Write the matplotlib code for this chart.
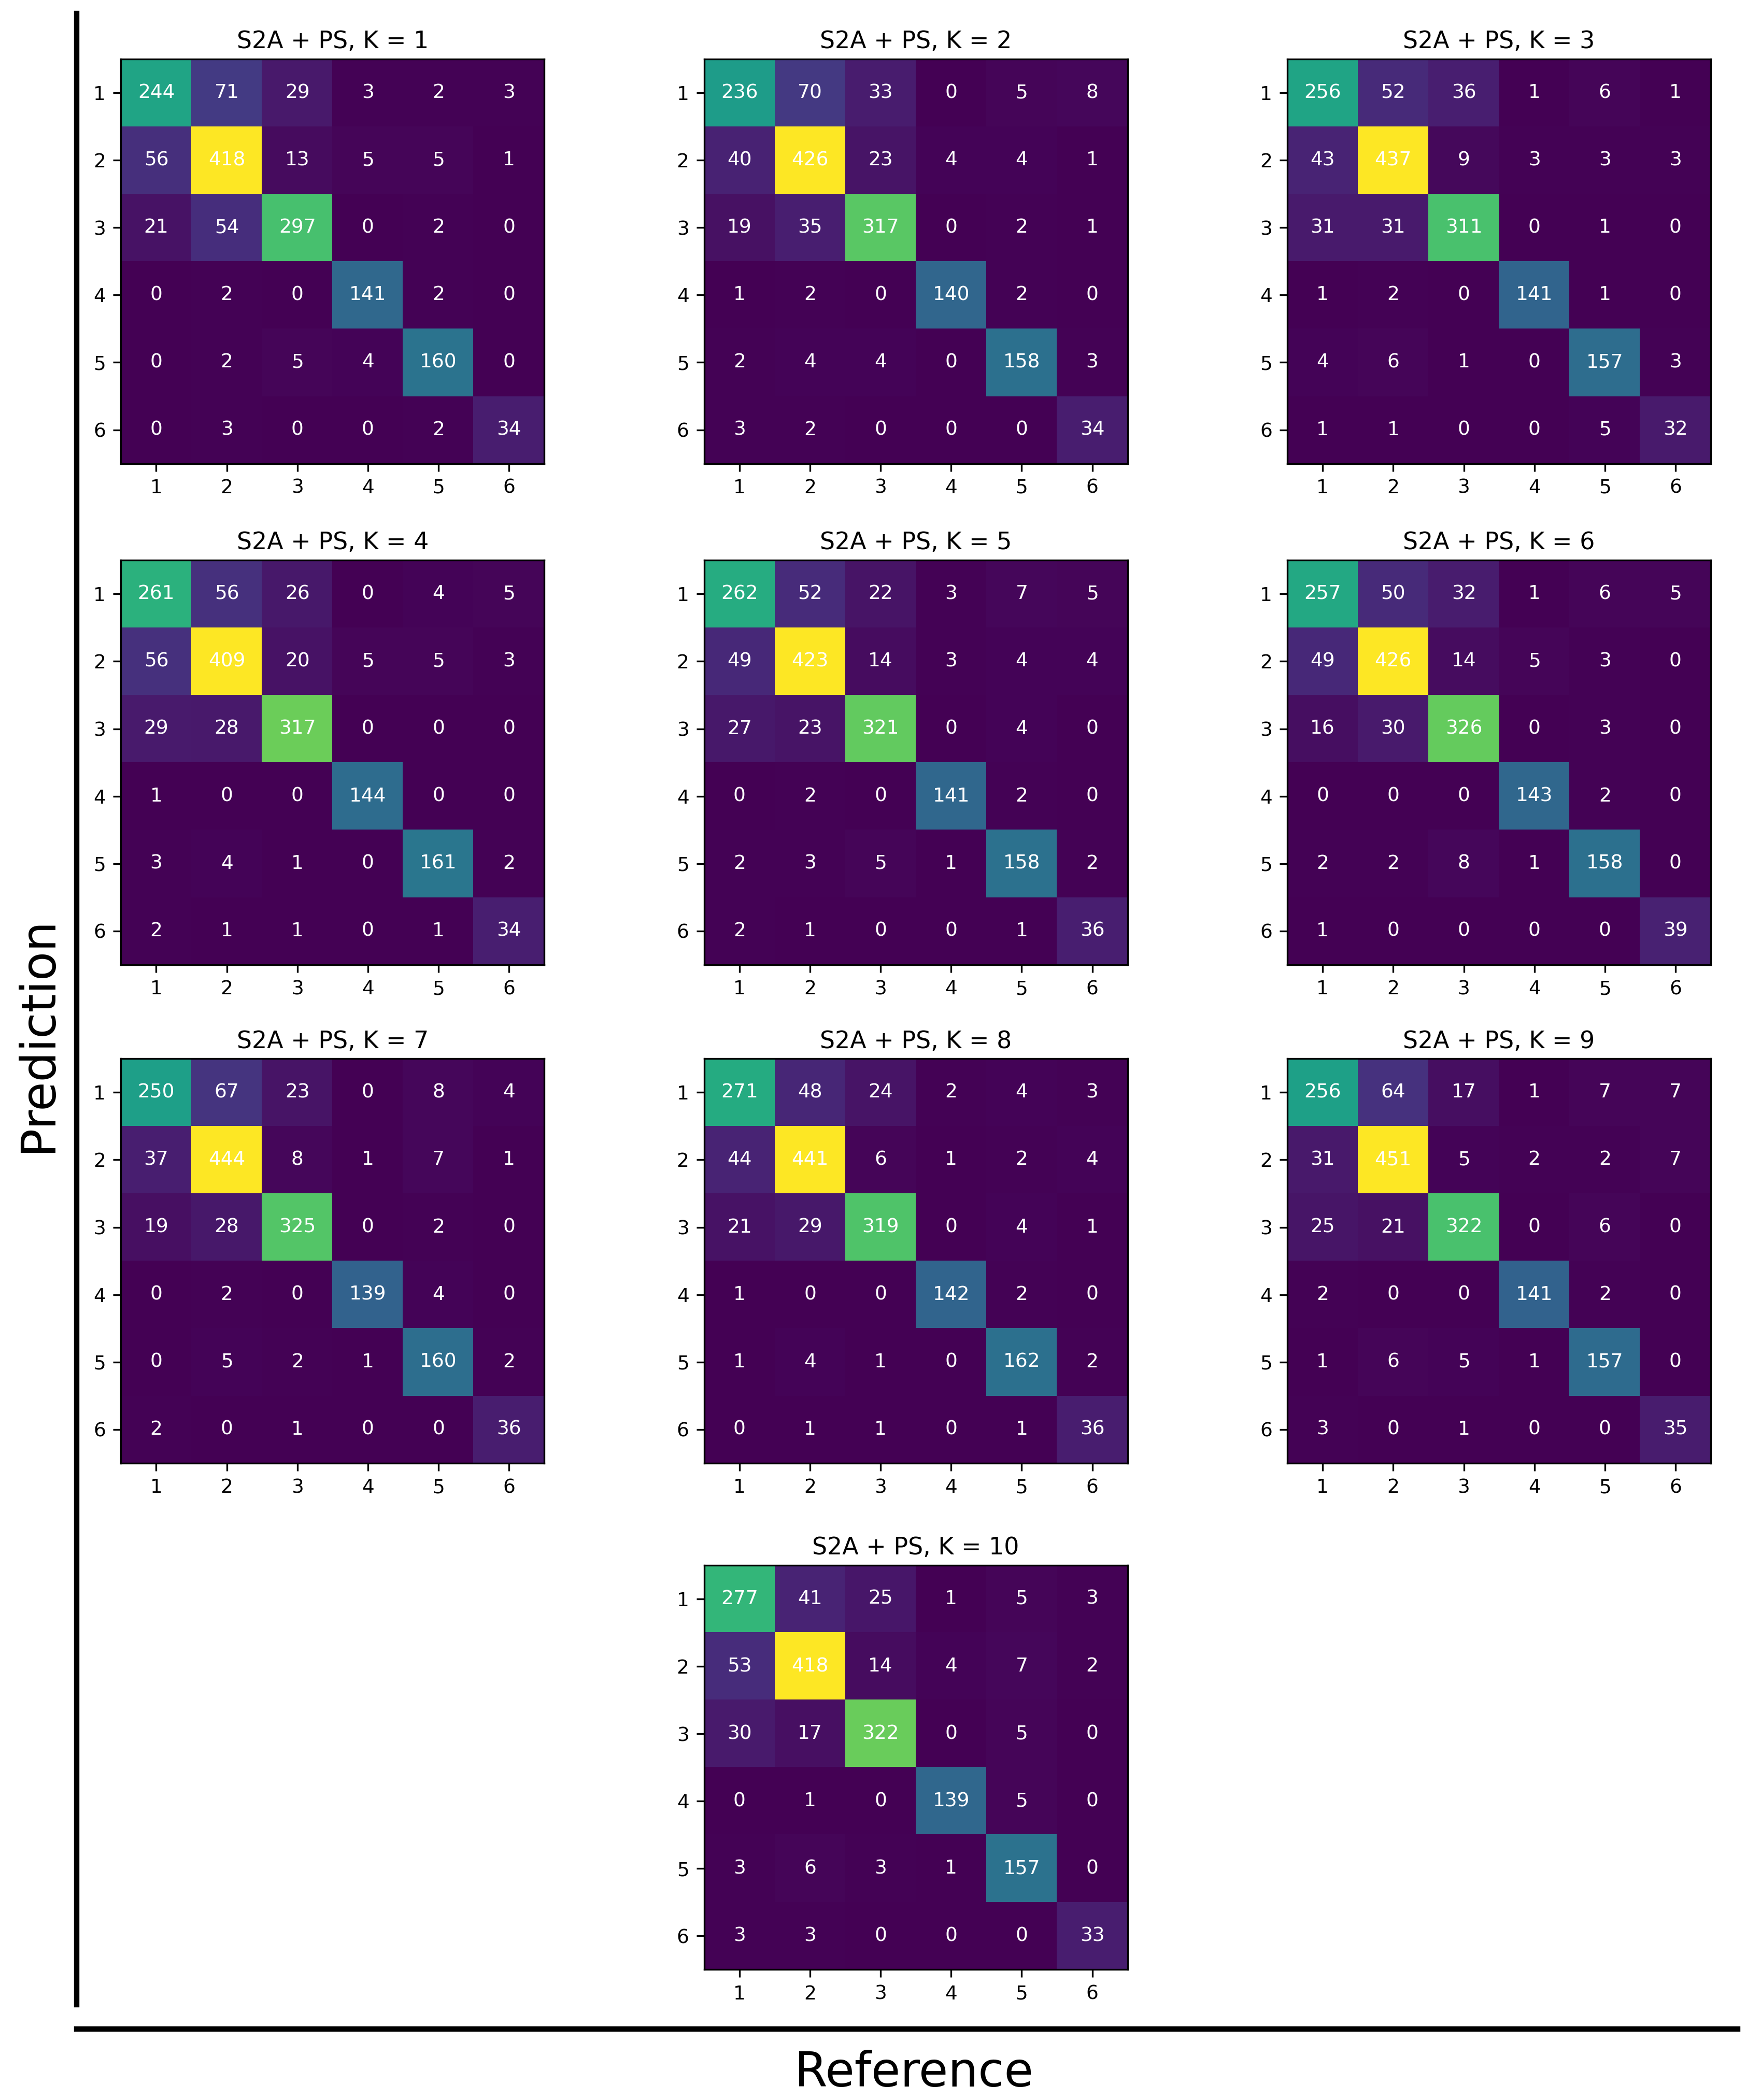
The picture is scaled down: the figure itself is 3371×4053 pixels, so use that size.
import numpy as np
import matplotlib
matplotlib.use("Agg")
import matplotlib.pyplot as plt
from matplotlib.lines import Line2D

labels = ["1", "2", "3", "4", "5", "6"]
titles = [f"S2A + PS, K = {k}" for k in range(1, 11)]

cm1 = [[244,71,29,3,2,3],[56,418,13,5,5,1],[21,54,297,0,2,0],[0,2,0,141,2,0],[0,2,5,4,160,0],[0,3,0,0,2,34]]
cm2 = [[236,70,33,0,5,8],[40,426,23,4,4,1],[19,35,317,0,2,1],[1,2,0,140,2,0],[2,4,4,0,158,3],[3,2,0,0,0,34]]
cm3 = [[256,52,36,1,6,1],[43,437,9,3,3,3],[31,31,311,0,1,0],[1,2,0,141,1,0],[4,6,1,0,157,3],[1,1,0,0,5,32]]
cm4 = [[261,56,26,0,4,5],[56,409,20,5,5,3],[29,28,317,0,0,0],[1,0,0,144,0,0],[3,4,1,0,161,2],[2,1,1,0,1,34]]
cm5 = [[262,52,22,3,7,5],[49,423,14,3,4,4],[27,23,321,0,4,0],[0,2,0,141,2,0],[2,3,5,1,158,2],[2,1,0,0,1,36]]
cm6 = [[257,50,32,1,6,5],[49,426,14,5,3,0],[16,30,326,0,3,0],[0,0,0,143,2,0],[2,2,8,1,158,0],[1,0,0,0,0,39]]
cm7 = [[250,67,23,0,8,4],[37,444,8,1,7,1],[19,28,325,0,2,0],[0,2,0,139,4,0],[0,5,2,1,160,2],[2,0,1,0,0,36]]
cm8 = [[271,48,24,2,4,3],[44,441,6,1,2,4],[21,29,319,0,4,1],[1,0,0,142,2,0],[1,4,1,0,162,2],[0,1,1,0,1,36]]
cm9 = [[256,64,17,1,7,7],[31,451,5,2,2,7],[25,21,322,0,6,0],[2,0,0,141,2,0],[1,6,5,1,157,0],[3,0,1,0,0,35]]
cm10 = [[277,41,25,1,5,3],[53,418,14,4,7,2],[30,17,322,0,5,0],[0,1,0,139,5,0],[3,6,3,1,157,0],[3,3,0,0,0,33]]
matrices = [cm1, cm2, cm3, cm4, cm5, cm6, cm7, cm8, cm9, cm10]

W, H = 1300.0, 1563.0
fig = plt.figure(figsize=(3371/300, 4053/300), dpi=300)

cols = [90, 524, 958]
rows = [44, 417, 788, 1165]
size_w, size_h = 315, 301
positions = [(c, r) for r in rows[:3] for c in cols] + [(cols[1], rows[3])]

for cm, title, (x0, y0) in zip(matrices, titles, positions):
    ax = fig.add_axes([x0 / W, 1 - (y0 + size_h) / H, size_w / W, size_h / H])
    m = np.array(cm)
    ax.imshow(m, cmap="viridis", aspect="auto")
    for i in range(6):
        for j in range(6):
            ax.text(j, i, str(m[i, j]), ha="center", va="center", color="white", fontsize=9)
    ax.set_xticks(range(6))
    ax.set_xticklabels(labels, fontsize=9)
    ax.set_yticks(range(6))
    ax.set_yticklabels(labels, fontsize=9)
    ax.set_title(title, fontsize=11, pad=5)

fig.add_artist(Line2D([57/W, 57/W], [1 - 10/H, 1 - 1492/H], color="black", lw=2.5, transform=fig.transFigure))
fig.add_artist(Line2D([57/W, 1293/W], [1 - 1510/H, 1 - 1510/H], color="black", lw=2.5, transform=fig.transFigure))
fig.text(28/W, 1 - 770/H, "Prediction", rotation=90, ha="center", va="center", fontsize=22)
fig.text(680/W, 1 - 1543/H, "Reference", ha="center", va="center", fontsize=22)

fig.savefig("out.png", dpi=300)
